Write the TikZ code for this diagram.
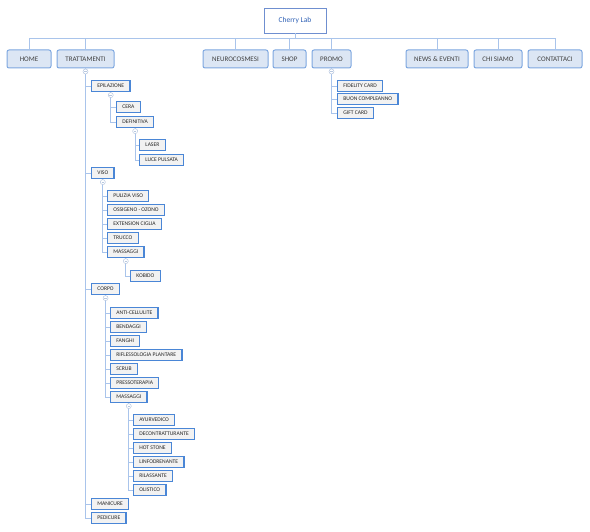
\documentclass[tikz,border=0pt]{standalone}
\usepackage{fontspec}
\setmainfont{Carlito}
\usetikzlibrary{positioning,calc}
\definecolor{linkblue}{HTML}{A9C4EB}
\definecolor{rootblue}{HTML}{6F8FD0}
\definecolor{roottext}{HTML}{2E60B5}
\definecolor{topfill}{HTML}{DCE6F4}
\definecolor{topdraw}{HTML}{7DA7E0}
\definecolor{subfill}{HTML}{F2F2F2}
\definecolor{subdraw}{HTML}{4A86D6}
\definecolor{foldgray}{HTML}{B8C8E0}
\tikzset{
  rootbox/.style={rectangle,draw=rootblue,fill=white,line width=0.8pt,
    minimum width=62pt,minimum height=25pt,font=\fontsize{7.5}{8}\selectfont,
    text=roottext},
  topbox/.style={rectangle,draw=topdraw,fill=topfill,line width=1pt,rounded corners=2pt,
    minimum height=18pt,inner xsep=0pt,font=\fontsize{7}{8}\selectfont,text=black!75},
  subbox/.style={rectangle,draw=subdraw,fill=subfill,line width=1.2pt,anchor=west,
    minimum height=11pt,inner xsep=5.8pt,inner ysep=0pt,
    font=\fontsize{5.6}{6}\selectfont,text=black!85},
  link/.style={draw=linkblue,line width=0.8pt},
  fold/.style={circle,draw=foldgray,fill=white,line width=0.5pt,minimum size=5pt,inner sep=0pt,
    path picture={\draw[foldgray,line width=0.5pt]
      ([xshift=1.2pt]path picture bounding box.west) -- ([xshift=-1.2pt]path picture bounding box.east);}},
}

\begin{document}
\begin{tikzpicture}[x=1pt,y=-1pt]
  \useasboundingbox (0,0) rectangle (590,532);

  %% ── Root and top menu ─────────────────────────────────────────────────────
  \node[rootbox] (root) at (295,20.5) {Cherry Lab};
  \coordinate (bus) at (0,38);
  \node[topbox,minimum width=44pt] (home)    at (29,59)    {HOME};
  \node[topbox,minimum width=57pt] (tratt)   at (85.5,59)  {TRATTAMENTI};
  \node[topbox,minimum width=65pt] (neuro)   at (235.5,59) {NEUROCOSMESI};
  \node[topbox,minimum width=33pt] (shop)    at (289.5,59) {SHOP};
  \node[topbox,minimum width=39pt] (promo)   at (331.5,59) {PROMO};
  \node[topbox,minimum width=62pt] (news)    at (437,59)   {NEWS \& EVENTI};
  \node[topbox,minimum width=48pt] (chisiamo) at (498,59)  {CHI SIAMO};
  \node[topbox,minimum width=54pt] (contatti) at (555,59)  {CONTATTACI};

  %% ── Trattamenti: epilazione ───────────────────────────────────────────────
  \node[subbox] (epil)   at (91,86)   {EPILAZIONE};
  \node[subbox] (cera)   at (116,107) {CERA};
  \node[subbox] (defin)  at (116,122) {DEFINITIVA};
  \node[subbox] (laser)  at (139,145) {LASER};
  \node[subbox] (luce)   at (139,160) {LUCE PULSATA};

  %% ── Trattamenti: viso ─────────────────────────────────────────────────────
  \node[subbox] (viso)    at (91,173)  {VISO};
  \node[subbox] (pulizia) at (107,196) {PULIZIA VISO};
  \node[subbox] (ossig)   at (107,210) {OSSIGENO - OZONO};
  \node[subbox] (ext)     at (107,224) {EXTENSION CIGLIA};
  \node[subbox] (trucco)  at (107,238) {TRUCCO};
  \node[subbox] (massv)   at (107,252) {MASSAGGI};
  \node[subbox] (kobido)  at (130,276) {KOBIDO};

  %% ── Trattamenti: corpo ────────────────────────────────────────────────────
  \node[subbox] (corpo)  at (91,289)  {CORPO};
  \node[subbox] (anti)   at (110,313) {ANTI-CELLULITE};
  \node[subbox] (bend)   at (110,327) {BENDAGGI};
  \node[subbox] (fanghi) at (110,341) {FANGHI};
  \node[subbox] (rifl)   at (110,355) {RIFLESSOLOGIA PLANTARE};
  \node[subbox] (scrub)  at (110,369) {SCRUB};
  \node[subbox] (presso) at (110,383) {PRESSOTERAPIA};
  \node[subbox] (massc)  at (110,397) {MASSAGGI};
  \node[subbox] (ayur)   at (133,420) {AYURVEDICO};
  \node[subbox] (decon)  at (133,434) {DECONTRATTURANTE};
  \node[subbox] (hot)    at (133,448) {HOT STONE};
  \node[subbox] (linfo)  at (133,462) {LINFODRENANTE};
  \node[subbox] (rilas)  at (133,476) {RILASSANTE};
  \node[subbox] (olis)   at (133,490) {OLISTICO};
  \node[subbox] (mani)   at (91,504)  {MANICURE};
  \node[subbox] (pedi)   at (91,518)  {PEDICURE};

  %% ── Promo ─────────────────────────────────────────────────────────────────
  \node[subbox] (fid)  at (337,86)  {FIDELITY CARD};
  \node[subbox] (buon) at (337,99)  {BUON COMPLEANNO};
  \node[subbox] (gift) at (337,113) {GIFT CARD};

  %% ── Connectors ────────────────────────────────────────────────────────────
  \path[link] (root.south) -- (root.south |- bus);
  \path[link] (home.north |- bus) -- (contatti.north |- bus);
  \foreach \t in {home,tratt,neuro,shop,promo,news,chisiamo,contatti}
    \path[link] (\t.north) -- (\t.north |- bus);
  \foreach \c in {epil,viso,corpo,mani,pedi}
    \path[link] (tratt.south) |- (\c.west);
  \foreach \c in {cera,defin}
    \path[link] (epil.south) |- (\c.west);
  \foreach \c in {laser,luce}
    \path[link] (defin.south) |- (\c.west);
  \foreach \c in {pulizia,ossig,ext,trucco,massv}
    \path[link] (viso.south) |- (\c.west);
  \path[link] (massv.south) |- (kobido.west);
  \foreach \c in {anti,bend,fanghi,rifl,scrub,presso,massc}
    \path[link] (corpo.south) |- (\c.west);
  \foreach \c in {ayur,decon,hot,linfo,rilas,olis}
    \path[link] (massc.south) |- (\c.west);
  \foreach \c in {fid,buon,gift}
    \path[link] (promo.south) |- (\c.west);

  %% ── Fold markers ──────────────────────────────────────────────────────────
  \foreach \p in {tratt,epil,defin,viso,massv,corpo,massc,promo}
    \node[fold] at ([yshift=-3pt]\p.south) {};

\end{tikzpicture}
\end{document}
